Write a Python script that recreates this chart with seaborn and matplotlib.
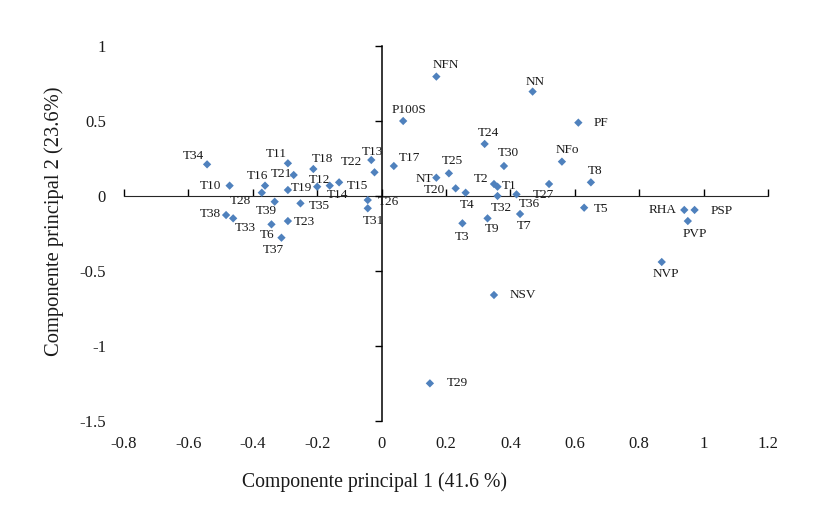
import matplotlib
matplotlib.use("Agg")
import matplotlib.pyplot as plt
import seaborn as sns
import pandas as pd

# ---- data ----
labels = ["T34", "T10", "T11", "T21", "T16", "T28", "T19", "T18", "T12", "T14",
          "T15", "T13", "T22", "T26", "T31", "T39", "T35", "T38", "T33", "T6",
          "T23", "T37", "T17", "NT", "T25", "T20", "T4", "T24", "T30", "T2",
          "T1", "T32", "T36", "T27", "NFo", "T8", "T5", "T7", "T9", "T3",
          "RHA", "PSP", "PVP", "NVP", "NFN", "NN", "P100S", "PF", "NSV", "T29"]
pc1 = [-0.542, -0.472, -0.291, -0.273, -0.362, -0.372, -0.291, -0.212, -0.200, -0.161,
       -0.132, -0.032, -0.022, -0.043, -0.043, -0.332, -0.252, -0.483, -0.461, -0.342,
       -0.291, -0.311, 0.038, 0.170, 0.209, 0.230, 0.261, 0.320, 0.380, 0.349,
       0.360, 0.360, 0.419, 0.520, 0.560, 0.650, 0.629, 0.430, 0.329, 0.251,
       0.940, 0.972, 0.951, 0.870, 0.170, 0.469, 0.067, 0.611, 0.349, 0.150]
pc2 = [0.211, 0.069, 0.218, 0.140, 0.069, 0.022, 0.040, 0.180, 0.062, 0.069,
       0.091, 0.240, 0.158, -0.027, -0.082, -0.038, -0.049, -0.127, -0.149, -0.189,
       -0.167, -0.278, 0.200, 0.122, 0.151, 0.051, 0.022, 0.347, 0.200, 0.080,
       0.062, 0.000, 0.011, 0.080, 0.229, 0.091, -0.078, -0.120, -0.149, -0.182,
       -0.093, -0.093, -0.167, -0.440, 0.796, 0.696, 0.500, 0.489, -0.660, -1.249]

xticks = [-0.8, -0.6, -0.4, -0.2, 0.0, 0.2, 0.4, 0.6, 0.8, 1.0, 1.2]
xticklabels = ["-0.8", "-0.6", "-0.4", "-0.2", "0", "0.2", "0.4", "0.6", "0.8", "1", "1.2"]
yticks = [1.0, 0.5, 0.0, -0.5, -1.0, -1.5]
yticklabels = ["1", "0.5", "0", "-0.5", "-1", "-1.5"]
xlabel = "Componente principal 1 (41.6 %)"
ylabel = "Componente principal 2 (23.6%)"

# label offsets (pixels) – style only
offsets = {
    "T34": (-14, 8), "T10": (-19, 0), "T11": (-12, 9), "T21": (-12, 1), "T16": (-8, 10),
    "T28": (-21, -8), "T19": (14, 2), "T18": (9, 10), "T12": (2, 7), "T14": (8, -9),
    "T15": (18, -4), "T13": (1, 8), "T22": (-23, 10), "T26": (21, -2), "T31": (6, -13),
    "T39": (-8, -9), "T35": (19, -3), "T38": (-16, 1), "T33": (12, -10), "T6": (-4, -11),
    "T23": (16, -1), "T37": (-8, -12), "T17": (16, 8), "NT": (-12, -1), "T25": (3, 12),
    "T20": (-21, -2), "T4": (1, -12), "T24": (4, 11), "T30": (4, 13), "T2": (-13, 5),
    "T1": (12, 1), "T32": (4, -12), "T36": (13, -10), "T27": (-6, -11), "NFo": (5, 12),
    "T8": (4, 11), "T5": (17, -1), "T7": (4, -12), "T9": (5, -11), "T3": (0, -14),
    "RHA": (-22, 0), "PSP": (27, -1), "PVP": (7, -13), "NVP": (4, -12), "NFN": (9, 12),
    "NN": (2, 10), "P100S": (6, 11), "PF": (23, 0), "NSV": (29, 0), "T29": (27, 0),
}

df = pd.DataFrame({"label": labels, "pc1": pc1, "pc2": pc2})

sns.set_style("white")
plt.rcParams["font.family"] = ["Liberation Serif", "DejaVu Serif"]

W, H = 835, 507
fig = plt.figure(figsize=(W / 100, H / 100), dpi=100)
ax = fig.add_axes([124 / W, 1 - 421 / H, 644 / W, 375 / H])

sns.scatterplot(data=df, x="pc1", y="pc2", ax=ax, marker="D", s=18,
                color="#4F81BD", edgecolor="none", linewidth=0, zorder=3)

for lab, x, y in zip(df["label"], df["pc1"], df["pc2"]):
    dx, dy = offsets.get(lab, (10, 0))
    ax.annotate(lab, (x, y), xytext=(dx, dy), textcoords="offset pixels",
                ha="center", va="center", fontsize=9.5, color="#1a1a1a", zorder=4)

ax.set_xlim(-0.8, 1.2)
ax.set_ylim(-1.5, 1.0)
for sp in ax.spines.values():
    sp.set_visible(False)
ax.set_xticks(xticks)
ax.set_xticklabels(xticklabels)
ax.set_yticks(yticks)
ax.set_yticklabels(yticklabels)
ax.tick_params(axis="both", length=0, labelsize=12, colors="#1a1a1a")
ax.tick_params(axis="x", pad=10.5)
ax.tick_params(axis="y", pad=13)
ax.grid(False)

# axis lines crossing at the origin
secx = ax.secondary_xaxis(0.6)
secx.set_xticks(xticks)
secx.tick_params(direction="out", length=5, width=1, labelbottom=False, labeltop=False,
                 color="black")
secx.spines["bottom"].set_color("black")
secx.spines["bottom"].set_linewidth(1.1)
secy = ax.secondary_yaxis(0.4)
secy.set_yticks(yticks)
secy.tick_params(direction="out", length=5, width=1, labelleft=False, labelright=False,
                 color="black")
secy.spines["left"].set_color("black")
secy.spines["left"].set_linewidth(1.1)

ax.set_xlabel(xlabel, fontsize=14.2, color="#1a1a1a")
ax.set_ylabel(ylabel, fontsize=14.8, color="#1a1a1a")
ax.xaxis.set_label_coords((375 - 124) / 644, (421 - 472) / 375)
ax.yaxis.set_label_coords((64 - 124) / 644, (421 - 221) / 375)

fig.savefig("out.png", dpi=100, facecolor="white")
